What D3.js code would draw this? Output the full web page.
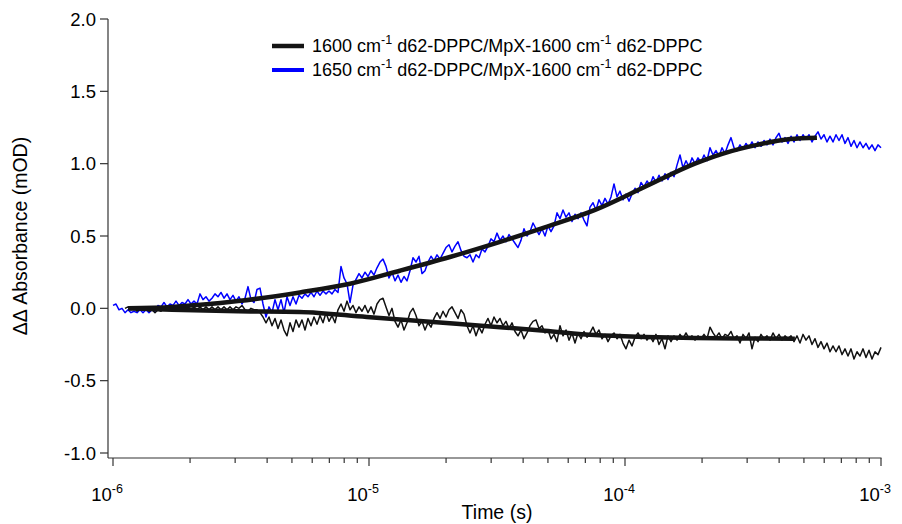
<!DOCTYPE html>
<html><head><meta charset="utf-8">
<script src="https://cdn.jsdelivr.net/npm/d3@7"></script>
<style>body{margin:0;background:#fff}svg{display:block}text{font-family:"Liberation Sans",Arial,sans-serif;fill:#000}</style>
</head><body><svg id="c" width="902" height="524"></svg>
<script>
// sampling grid: 257 log-spaced times from 1e-6 s to 1e-3 s
const nPts = 257;
const tStartExp = -6, tEndExp = -3;
// 1650 cm-1 d62-DPPC/MpX-1600 cm-1 d62-DPPC (blue, raw)
const blue1650 = [0.02,0.03,-0.01,0.00,-0.03,-0.01,-0.03,-0.02,-0.03,-0.01,-0.03,-0.01,-0.03,-0.01,-0.02,0.02,0.01,0.04,0.01,0.03,
0.02,0.05,0.02,0.04,0.03,0.06,0.03,0.05,0.03,0.10,0.06,0.08,0.05,0.07,0.10,0.08,0.11,0.07,0.10,0.06,
0.09,0.05,0.08,0.03,0.07,0.15,0.06,0.04,0.13,0.14,0.03,-0.06,0.01,-0.03,0.06,-0.01,0.06,-0.03,0.08,0.02,
0.08,0.03,0.09,0.07,0.10,0.08,0.11,0.08,0.12,0.09,0.12,0.10,0.12,0.10,0.13,0.11,0.29,0.21,0.17,0.04,
0.16,0.20,0.24,0.21,0.25,0.22,0.26,0.23,0.28,0.32,0.34,0.29,0.21,0.25,0.19,0.23,0.18,0.22,0.19,0.26,
0.35,0.32,0.36,0.24,0.26,0.32,0.36,0.33,0.37,0.34,0.38,0.42,0.44,0.39,0.43,0.46,0.40,0.36,0.35,0.37,
0.32,0.37,0.35,0.41,0.39,0.43,0.48,0.46,0.52,0.47,0.50,0.46,0.51,0.48,0.45,0.42,0.47,0.55,0.50,0.53,
0.59,0.55,0.51,0.55,0.50,0.57,0.53,0.57,0.66,0.62,0.68,0.63,0.66,0.60,0.65,0.62,0.66,0.61,0.57,0.70,
0.73,0.68,0.75,0.71,0.76,0.72,0.77,0.86,0.77,0.81,0.75,0.79,0.74,0.79,0.83,0.80,0.87,0.84,0.88,0.85,
0.91,0.87,0.92,0.88,0.93,0.89,0.94,0.91,0.99,1.06,0.97,1.02,0.98,1.04,1.00,1.04,1.01,1.06,1.02,1.11,
1.06,1.09,1.05,1.11,1.07,1.13,1.18,1.11,1.09,1.13,1.10,1.14,1.11,1.15,1.11,1.15,1.12,1.16,1.13,1.17,
1.13,1.18,1.21,1.15,1.18,1.14,1.19,1.15,1.20,1.16,1.20,1.17,1.20,1.15,1.19,1.22,1.17,1.20,1.15,1.19,
1.15,1.20,1.16,1.20,1.14,1.18,1.12,1.16,1.11,1.15,1.11,1.14,1.10,1.13,1.09,1.13,1.11];
// 1600 cm-1 d62-DPPC/MpX-1600 cm-1 d62-DPPC (black, raw); first 4 grid points not recorded
const blackStart = 4;
const black1600 = [0.00,0.01,-0.01,0.01,-0.02,0.00,-0.01,0.01,-0.02,-0.01,-0.03,-0.01,-0.02,0.00,-0.01,0.01,
-0.01,0.00,-0.02,0.00,-0.01,0.01,-0.01,0.01,-0.01,0.01,-0.01,0.01,-0.01,0.01,-0.01,0.01,-0.01,0.01,-0.01,0.01,
-0.01,0.01,0.00,0.02,-0.01,-0.02,0.00,-0.01,-0.01,-0.03,-0.06,-0.10,-0.06,-0.12,-0.07,-0.14,-0.08,-0.15,-0.19,-0.10,
-0.16,-0.08,-0.13,-0.08,-0.15,-0.07,-0.12,-0.06,-0.11,-0.05,-0.10,-0.03,-0.09,-0.05,-0.10,-0.01,0.03,-0.02,0.05,-0.01,
0.02,-0.03,0.01,-0.02,0.02,-0.03,0.01,-0.04,0.03,0.06,0.07,0.01,-0.05,0.00,-0.09,-0.13,-0.08,-0.15,-0.10,-0.03,
0.00,-0.05,-0.12,-0.09,-0.15,-0.10,-0.13,-0.07,-0.03,-0.07,-0.02,-0.06,-0.01,0.01,-0.03,-0.07,-0.01,-0.04,-0.12,-0.17,
-0.12,-0.19,-0.13,-0.17,-0.11,-0.07,-0.12,-0.06,-0.10,-0.07,-0.12,-0.09,-0.14,-0.10,-0.16,-0.19,-0.15,-0.21,-0.17,-0.12,
-0.09,-0.08,-0.14,-0.12,-0.17,-0.15,-0.21,-0.18,-0.23,-0.12,-0.19,-0.15,-0.22,-0.17,-0.24,-0.17,-0.21,-0.16,-0.20,-0.17,
-0.13,-0.18,-0.15,-0.21,-0.18,-0.23,-0.19,-0.17,-0.21,-0.18,-0.24,-0.28,-0.22,-0.26,-0.20,-0.17,-0.21,-0.18,-0.22,-0.19,
-0.23,-0.18,-0.25,-0.21,-0.28,-0.19,-0.23,-0.19,-0.22,-0.18,-0.21,-0.17,-0.21,-0.19,-0.22,-0.19,-0.21,-0.18,-0.21,-0.13,
-0.17,-0.20,-0.17,-0.21,-0.18,-0.19,-0.16,-0.21,-0.19,-0.24,-0.18,-0.21,-0.17,-0.28,-0.20,-0.23,-0.18,-0.21,-0.19,-0.22,
-0.17,-0.21,-0.18,-0.22,-0.19,-0.21,-0.19,-0.23,-0.19,-0.24,-0.18,-0.22,-0.19,-0.25,-0.21,-0.27,-0.23,-0.28,-0.24,-0.30,
-0.26,-0.30,-0.26,-0.32,-0.28,-0.33,-0.28,-0.35,-0.30,-0.33,-0.28,-0.34,-0.29,-0.35,-0.30,-0.32,-0.27];
// fits
const fit1650T = [1.146e-6,1.698e-6,3.08e-6,5.37e-6,8.43e-6,1.32e-5,2.07e-5,3.25e-5,4.86e-5,7.64e-5,1.197e-4,1.875e-4,2.415e-4,3.28e-4,4.42e-4,5.62e-4];
const fit1650V = [0.00,0.01,0.05,0.11,0.17,0.26,0.355,0.46,0.56,0.68,0.84,1.00,1.07,1.13,1.17,1.18];
const fit1600T = [1.146e-6,1.698e-6,3.08e-6,5.37e-6,9.8e-6,1.78e-5,3.25e-5,4.86e-5,7.64e-5,1.197e-4,1.875e-4,3.08e-4,4.61e-4];
const fit1600V = [0.00,-0.01,-0.02,-0.025,-0.06,-0.095,-0.13,-0.155,-0.185,-0.198,-0.205,-0.209,-0.21];
const yTicks = [-1.0,-0.5,0.0,0.5,1.0,1.5,2.0];
const yTickLabels = ["-1.0","-0.5","0.0","0.5","1.0","1.5","2.0"];
const xMajor = [1e-6,1e-5,1e-4,1e-3];
const xMajorExp = ["-6","-5","-4","-3"];
const legendLabels = [["1600 cm","-1"," d62-DPPC/MpX-1600 cm","-1"," d62-DPPC"],["1650 cm","-1"," d62-DPPC/MpX-1600 cm","-1"," d62-DPPC"]];

const times = d3.range(nPts).map(i => Math.pow(10, tStartExp + i*(tEndExp - tStartExp)/(nPts-1)));
const svg = d3.select("#c");
const x = d3.scaleLog().domain([1e-6,1e-3]).range([113,881]);
const y = d3.scaleLinear().domain([-1,2]).range([453,19]);
const axisX = 108, axisY = 458;

const line = d3.line().x(d => x(d[0])).y(d => y(d[1]));
const smooth = d3.line().x(d => x(d[0])).y(d => y(d[1])).curve(d3.curveMonotoneX);

const blueData = blue1650.map((v,i) => [times[i], v]);
const blackData = black1600.map((v,i) => [times[i+blackStart], v]);
svg.append("path").attr("d", line(blueData)).attr("fill","none").attr("stroke","#0000ff").attr("stroke-width",1.5).attr("stroke-linejoin","round");
svg.append("path").attr("d", line(blackData)).attr("fill","none").attr("stroke","#111").attr("stroke-width",1.5).attr("stroke-linejoin","round");
svg.append("path").attr("d", smooth(fit1650T.map((t,i)=>[t,fit1650V[i]]))).attr("fill","none").attr("stroke","#141414").attr("stroke-width",4.5).attr("stroke-linecap","butt");
svg.append("path").attr("d", smooth(fit1600T.map((t,i)=>[t,fit1600V[i]]))).attr("fill","none").attr("stroke","#141414").attr("stroke-width",4.5).attr("stroke-linecap","butt");

// axes
const ax = svg.append("g").attr("stroke","#333").attr("stroke-width",1.2);
ax.append("line").attr("x1",axisX).attr("x2",axisX).attr("y1",y(2)).attr("y2",axisY);
ax.append("line").attr("x1",axisX).attr("x2",x(1e-3)+0.5).attr("y1",axisY).attr("y2",axisY);
yTicks.forEach((v,i) => {
  ax.append("line").attr("x1",axisX-8).attr("x2",axisX).attr("y1",y(v)).attr("y2",y(v));
  svg.append("text").attr("x",axisX-12).attr("y",y(v)+6.5).attr("text-anchor","end").attr("font-size",18.5).text(yTickLabels[i]);
});
const minor = x.ticks(27);
minor.forEach(t => {
  const isMajor = xMajor.some(m => Math.abs(m - t)/m < 1e-9);
  ax.append("line").attr("x1",x(t)).attr("x2",x(t)).attr("y1",axisY).attr("y2",axisY+(isMajor?8:5));
});
xMajor.forEach((t,i) => {
  const tx = svg.append("text").attr("x",x(t)-6).attr("y",501).attr("text-anchor","middle").attr("font-size",18.5);
  tx.append("tspan").text("10");
  tx.append("tspan").attr("dy",-8).attr("font-size",12.5).text(xMajorExp[i]);
});
svg.append("text").attr("x",497).attr("y",519).attr("text-anchor","middle").attr("font-size",19.5).text("Time (s)");
svg.append("text").attr("transform","translate(27,236) rotate(-90)").attr("text-anchor","middle").attr("font-size",19.5).text("\u0394\u0394 Absorbance (mOD)");

// legend
const legColors = ["#141414","#0000ff"];
const legW = [4.5,4];
legendLabels.forEach((parts,i) => {
  const ly = 46 + i*24;
  svg.append("line").attr("x1",272).attr("x2",304).attr("y1",ly).attr("y2",ly).attr("stroke",legColors[i]).attr("stroke-width",legW[i]);
  const t = svg.append("text").attr("x",312).attr("y",ly+6).attr("font-size",18);
  parts.forEach((p,k) => {
    const sup = k % 2 === 1;
    t.append("tspan").attr("dy", sup ? -8 : (k>0 ? 8 : 0)).attr("font-size", sup ? 12.5 : 18).text(p);
  });
});
</script></body></html>
